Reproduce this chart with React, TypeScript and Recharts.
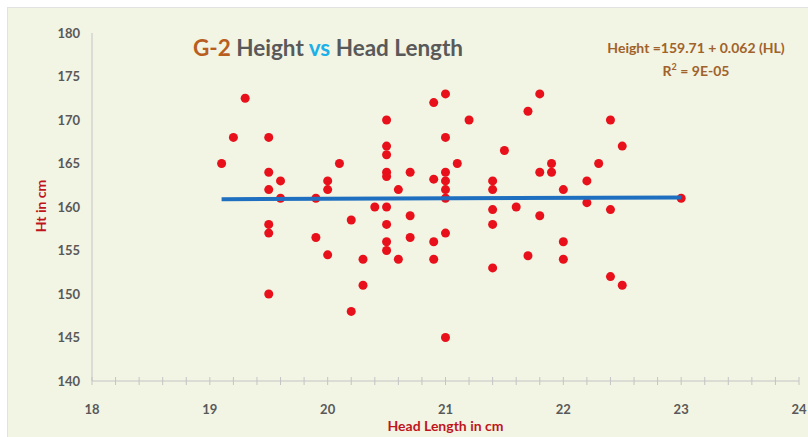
import React from 'react';
import { ScatterChart, Scatter, XAxis, YAxis, ZAxis } from 'recharts';

// head length (cm) and height (cm)
const headLength = [
  19.1, 19.2, 19.3, 19.5, 19.5, 19.5, 19.5, 19.5, 19.5, 19.6, 19.6, 19.9, 19.9,
  20.0, 20.0, 20.0, 20.1, 20.2, 20.2, 20.3, 20.3, 20.4,
  20.5, 20.5, 20.5, 20.5, 20.5, 20.5, 20.5, 20.5, 20.5, 20.6, 20.6, 20.7, 20.7, 20.7,
  20.9, 20.9, 20.9, 20.9, 21.0, 21.0, 21.0, 21.0, 21.0, 21.0, 21.0, 21.0, 21.1, 21.2,
  21.4, 21.4, 21.4, 21.4, 21.4, 21.5, 21.6, 21.7, 21.7, 21.8, 21.8, 21.8, 21.9, 21.9,
  22.0, 22.0, 22.0, 22.2, 22.2, 22.3, 22.4, 22.4, 22.4, 22.5, 22.5, 23.0,
];
const height = [
  165, 168, 172.5, 168, 164, 162, 158, 157, 150, 163, 161, 161, 156.5,
  163, 162, 154.5, 165, 158.5, 148, 154, 151, 160,
  170, 167, 166, 164, 163.5, 160, 158, 156, 155, 162, 154, 164, 159, 156.5,
  172, 163.2, 156, 154, 173, 168, 164, 163, 162, 161, 157, 145, 165, 170,
  163, 162, 159.7, 158, 153, 166.5, 160, 171, 154.4, 173, 164, 159, 165, 164,
  162, 156, 154, 163, 160.5, 165, 170, 159.7, 152, 167, 151, 161,
];

// fitted line end points
const trendX = [19.1, 23.0];
const trendY = [160.9, 161.1];

const xTicks = [
  18, 18.2, 18.4, 18.6, 18.8, 19, 19.2, 19.4, 19.6, 19.8, 20, 20.2, 20.4, 20.6, 20.8,
  21, 21.2, 21.4, 21.6, 21.8, 22, 22.2, 22.4, 22.6, 22.8, 23, 23.2, 23.4, 23.6, 23.8, 24,
];
const yTicks = [140, 145, 150, 155, 160, 165, 170, 175, 180];

const points = headLength.map((x, i) => ({ x, y: height[i] }));
const trend = trendX.map((x, i) => ({ x, y: trendY[i] }));

const FONT = 'Lato, "Open Sans", sans-serif';
const GREY = '#595959';

function XTick({ x, y, payload }: any) {
  const v = payload.value;
  const major = Math.abs(v - Math.round(v)) < 1e-6;
  return (
    <g>
      <line x1={x} x2={x} y1={y - 4} y2={y + 4} stroke="#c4c4c4" strokeWidth={1} />
      {major && (
        <text x={x} y={y + 28} textAnchor="middle" dominantBaseline="central"
          fill={GREY} fontSize={13} fontFamily={FONT} fontWeight={700}>
          {v}
        </text>
      )}
    </g>
  );
}

const Dot = (props: any) => <circle cx={props.cx} cy={props.cy} r={4.5} fill="#e8101a" />;
const NoDot = () => <g />;

export default function App() {
  return (
    <div style={{ position: 'fixed', left: 7, top: 7, width: 801, height: 430,
      background: '#f2f4e4', borderTop: '1px solid #e2e2e2', borderLeft: '1px solid #e2e2e2',
      boxSizing: 'border-box', fontFamily: FONT, overflow: 'hidden' }}>
      <ScatterChart width={800} height={429} margin={{ top: 25, right: 9, bottom: 0, left: 0 }}>
        <XAxis type="number" dataKey="x" domain={[18, 24]} ticks={xTicks} interval={0}
          allowDataOverflow height={56} tickSize={0} tickMargin={0} tickLine={false}
          axisLine={{ stroke: '#c4c4c4' }} tick={<XTick />}
          label={{ value: 'Head Length in cm', position: 'insideBottom', offset: 6,
            fill: '#c0141c', fontSize: 14, fontWeight: 700, fontFamily: FONT }} />
        <YAxis type="number" dataKey="y" domain={[140, 180]} ticks={yTicks} interval={0}
          width={84} tickSize={0} tickMargin={12} tickLine={false}
          axisLine={{ stroke: '#c4c4c4' }}
          tick={{ fill: GREY, fontSize: 13, fontFamily: FONT, fontWeight: 700 }} />
        <ZAxis range={[64, 64]} />
        <Scatter data={points} shape={<Dot />} isAnimationActive={false} />
        <Scatter data={trend} shape={<NoDot />} line={{ stroke: '#1f6fc0', strokeWidth: 4 }}
          lineType="joint" isAnimationActive={false} />
      </ScatterChart>
      <div style={{ position: 'absolute', left: 32, top: 198, transform: 'translate(-50%, -50%) rotate(-90deg)',
        color: '#c0141c', fontSize: 14, fontWeight: 700, whiteSpace: 'nowrap' }}>
        Ht in cm
      </div>
      <div style={{ position: 'absolute', left: 185, top: 26, fontSize: 22.5, fontWeight: 700,
        color: GREY, whiteSpace: 'nowrap' }}>
        <span style={{ color: '#b85e1f' }}>G-2</span> Height <span style={{ color: '#1cb0e8' }}>vs</span> Head Length
      </div>
      <div style={{ position: 'absolute', left: 688, top: 30, transform: 'translateX(-50%)',
        color: '#a0622a', fontSize: 14, fontWeight: 700, textAlign: 'center', lineHeight: '19px',
        whiteSpace: 'nowrap' }}>
        <div>Height =159.71 + 0.062 (HL)</div>
        <div>R<sup style={{ fontSize: 9 }}>2</sup> = 9E-05</div>
      </div>
    </div>
  );
}
